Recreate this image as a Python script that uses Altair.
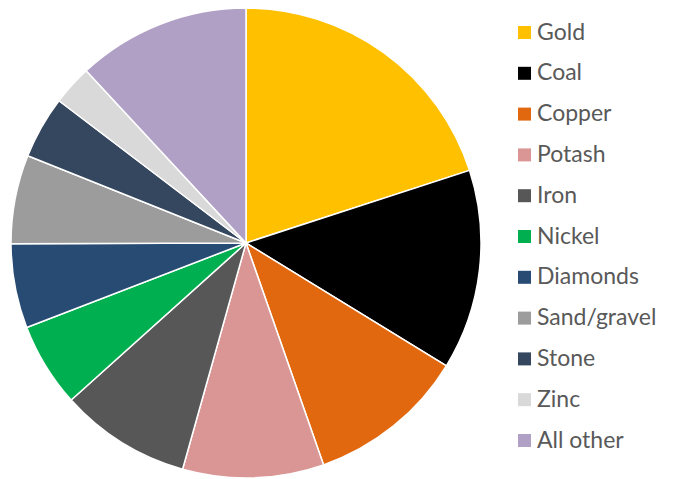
import altair as alt
import pandas as pd

categories = ["Gold", "Coal", "Copper", "Potash", "Iron", "Nickel", "Diamonds",
              "Sand/gravel", "Stone", "Zinc", "All other"]
shares = [20.0, 13.75, 10.9, 9.7, 9.0, 5.8, 5.8, 6.1, 4.3, 2.75, 11.9]
colors = ["#FFC000", "#000000", "#E1680E", "#D99694", "#575757", "#00B050",
          "#274B73", "#9C9C9C", "#34475F", "#D9D9D9", "#B0A0C6"]

df = pd.DataFrame({"cat": categories, "share": shares, "order": list(range(len(categories)))})

chart = alt.Chart(df).mark_arc(
    x=246, y=243, outerRadius=235, stroke="white", strokeWidth=1.5
).encode(
    theta=alt.Theta("share:Q", stack=True),
    order=alt.Order("order:Q"),
    color=alt.Color(
        "cat:N",
        scale=alt.Scale(domain=categories, range=colors),
        sort=categories,
        legend=alt.Legend(
            title=None, orient="none", legendX=513, legendY=21,
            symbolType="square", symbolSize=169, symbolStrokeWidth=0,
            labelFontSize=23, labelFont="Lato", labelColor="#595959",
            rowPadding=16.8, labelOffset=1, labelLimit=300
        ),
    ),
).properties(
    width=674, height=479, padding=0, autosize=alt.AutoSizeParams(type="none")
).configure_view(stroke=None)

chart.save("out.html", embed_options={"renderer": "svg", "actions": False})
